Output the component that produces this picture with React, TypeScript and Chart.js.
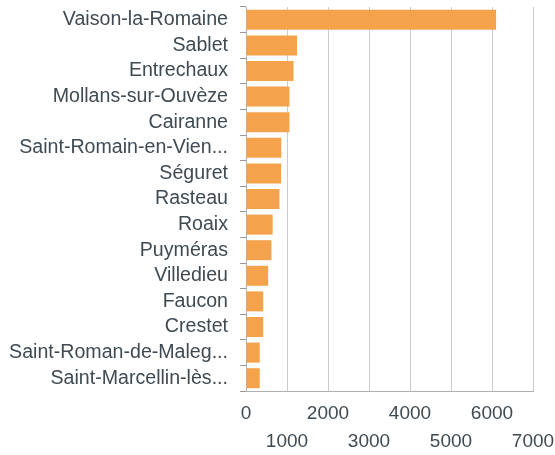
import React, { useEffect, useRef } from "react";
import { Chart, registerables } from "chart.js";

Chart.register(...registerables);

const communes = [
  "Vaison-la-Romaine",
  "Sablet",
  "Entrechaux",
  "Mollans-sur-Ouvèze",
  "Cairanne",
  "Saint-Romain-en-Vien...",
  "Séguret",
  "Rasteau",
  "Roaix",
  "Puyméras",
  "Villedieu",
  "Faucon",
  "Crestet",
  "Saint-Roman-de-Maleg...",
  "Saint-Marcellin-lès...",
];

const values = [6100, 1245, 1160, 1060, 1060, 860, 855, 815, 650, 620, 540, 420, 420, 335, 335];

const xMin = 0;
const xMax = 7000;
const xStep = 1000;

const barColor = "#F4A34C";
const textColor = "#3f4a52";
const gridColor = "#cccccc";

export default function App() {
  const ref = useRef<HTMLCanvasElement | null>(null);

  useEffect(() => {
    if (!ref.current) return;
    const chart = new Chart(ref.current, {
      type: "bar",
      data: {
        labels: communes,
        datasets: [
          {
            data: values,
            backgroundColor: barColor,
            borderWidth: 0,
            categoryPercentage: 0.85,
            barPercentage: 0.92,
          },
        ],
      },
      options: {
        indexAxis: "y",
        animation: false,
        responsive: true,
        maintainAspectRatio: false,
        layout: { padding: { top: 7, left: 0, right: 22, bottom: 0 } },
        plugins: {
          legend: { display: false },
          tooltip: { enabled: false },
        },
        scales: {
          x: {
            min: xMin,
            max: xMax,
            afterFit: (scale: any) => {
              scale.height = 64;
              scale.paddingLeft = 0;
              scale.paddingRight = 0;
            },
            ticks: {
              stepSize: xStep,
              autoSkip: false,
              maxRotation: 0,
              padding: 9,
              color: textColor,
              font: { family: "'Liberation Sans', Arial, sans-serif", size: 19, lineHeight: 1.45 },
              callback: (v: any, i: number) => {
                const s = String(v);
                return i % 2 === 0 ? s : ["", s];
              },
            },
            grid: { color: gridColor, drawTicks: false },
            border: { color: "#b0b0b0" },
          },
          y: {
            afterFit: (scale: any) => {
              scale.width = 246;
              scale.paddingTop = 0;
              scale.paddingBottom = 0;
            },
            ticks: {
              padding: 12,
              color: textColor,
              autoSkip: false,
              font: { family: "'Liberation Sans', Arial, sans-serif", size: 19.6 },
            },
            grid: { drawOnChartArea: false, drawTicks: true, tickLength: 6, color: "#999999" },
            border: { color: "#b0b0b0" },
          },
        },
      },
    });
    return () => chart.destroy();
  }, []);

  return (
    <div style={{ position: "fixed", left: 0, top: 0, width: 555, height: 455, background: "#fff" }}>
      <canvas ref={ref} />
    </div>
  );
}
